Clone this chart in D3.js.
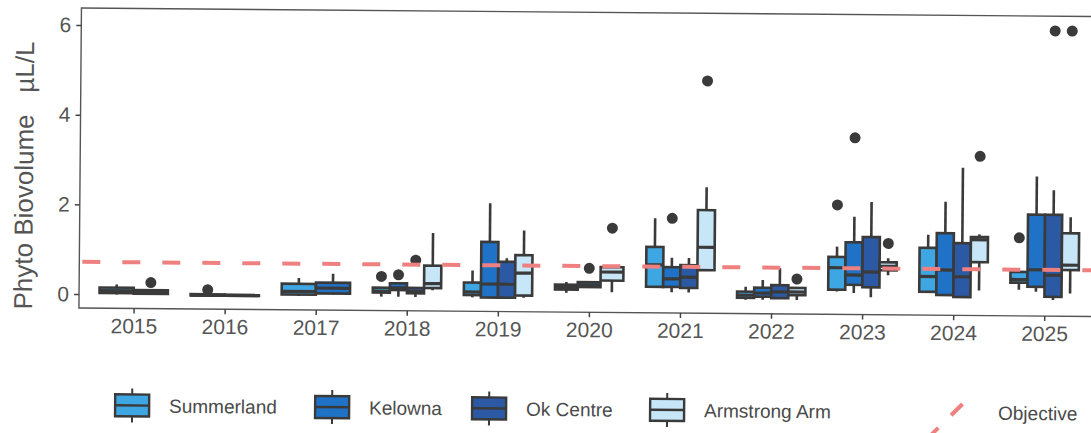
<!DOCTYPE html>
<meta charset="utf-8">
<style>
  body { margin: 0; background: #fff; }
  text { font-family: "Liberation Sans", Arial, sans-serif; }
</style>
<body>
<svg width="1091" height="433"></svg>
<script src="https://cdn.jsdelivr.net/npm/d3@7"></script>
<script>

// years on the x axis
var years = ["2015", "2016", "2017", "2018", "2019", "2020", "2021", "2022", "2023", "2024", "2025"];
var sites = ["Summerland", "Kelowna", "Ok Centre", "Armstrong Arm"];
var yTicks = [0, 2, 4, 6];
var objective = 0.72;

// box stats per year: [lower whisker, q1, median, q3, upper whisker], null = no samples
var summerland = [
  [0.0, 0.03, 0.08, 0.15, 0.22], [-0.02, -0.01, 0.0, 0.02, 0.03], [0.0, 0.03, 0.1, 0.27, 0.4],
  [0.0, 0.09, 0.12, 0.2, 0.2], [0.0, 0.05, 0.12, 0.33, 0.6], [0.12, 0.19, 0.24, 0.3, 0.36],
  [0.25, 0.27, 0.76, 1.16, 1.8], [0.0, 0.04, 0.1, 0.18, 0.29], [0.2, 0.24, 0.73, 0.97, 1.2],
  [0.21, 0.21, 0.55, 1.19, 1.48], [0.27, 0.43, 0.5, 0.67, 0.67]
];
var kelowna = [
  [0.0, 0.02, 0.05, 0.1, 0.12], [-0.02, -0.01, 0.0, 0.01, 0.02], [0.04, 0.06, 0.18, 0.3, 0.5],
  [0.0, 0.15, 0.2, 0.3, 0.3], [0.0, 0.0, 0.3, 1.24, 2.1], [0.25, 0.25, 0.3, 0.36, 0.36],
  [0.15, 0.27, 0.45, 0.71, 0.92], [0.0, 0.07, 0.15, 0.27, 0.44], [0.17, 0.35, 0.57, 1.3, 1.87],
  [0.14, 0.14, 0.7, 1.52, 2.22], [0.23, 0.34, 0.72, 1.95, 2.8]
];
var okCentre = [
  null, null, null,
  [0.0, 0.08, 0.12, 0.2, 0.2], [0.0, 0.0, 0.3, 0.8, 0.88], null,
  [0.15, 0.25, 0.49, 0.76, 0.92], [0.04, 0.04, 0.18, 0.33, 0.71], [0.08, 0.3, 0.64, 1.42, 2.2],
  [0.1, 0.1, 0.55, 1.3, 2.98], [0.05, 0.12, 0.6, 1.95, 2.5]
];
var armstrong = [
  null, null, null,
  [0.15, 0.2, 0.3, 0.7, 1.43], [0.0, 0.05, 0.55, 0.95, 1.5], [0.14, 0.4, 0.59, 0.7, 0.74],
  [0.65, 0.65, 1.16, 1.99, 2.5], [0.0, 0.11, 0.18, 0.27, 0.27], [0.57, 0.68, 0.77, 0.86, 0.95],
  [0.25, 0.88, 1.38, 1.44, 1.5], [0.2, 0.72, 0.83, 1.54, 1.9]
];

// outliers: [year, value]
var summerlandOut = [["2016", 0.12], ["2018", 0.45], ["2023", 2.13], ["2025", 1.43]];
var kelownaOut = [["2015", 0.27], ["2018", 0.49], ["2020", 0.67], ["2021", 1.8], ["2023", 3.63]];
var okCentreOut = [["2018", 0.82], ["2025", 6.05]];
var armstrongOut = [["2020", 1.57], ["2021", 4.87], ["2022", 0.47], ["2023", 1.28], ["2024", 3.24], ["2025", 6.05]];

var stats = [summerland, kelowna, okCentre, armstrong];
var outs = [summerlandOut, kelownaOut, okCentreOut, armstrongOut];
var colors = ["#3ea6e2", "#1f72c6", "#2b59a4", "#c7e6f8"];
var ink = "#3a3a3a";

var svg = d3.select("svg");
// the source is a slightly tilted scan
var chart = svg.append("g").attr("transform", "rotate(0.48, 80, 300)");

var panel = {left: 79, right: 1099, top: 8, bottom: 308};

var x = d3.scalePoint()
    .domain(years)
    .range([panel.left, panel.right])
    .padding(0.6);
var y = d3.scaleLinear()
    .domain([-0.31, 6.38])
    .range([panel.bottom, panel.top]);

var step = x.step();
var dodgeW = 0.75 * step;

// panel border
chart.append("rect")
    .attr("x", panel.left).attr("y", panel.top)
    .attr("width", panel.right - panel.left)
    .attr("height", panel.bottom - panel.top)
    .attr("fill", "none")
    .attr("stroke", "#555")
    .attr("stroke-width", 1.4);

// axes
var yAxis = chart.append("g")
    .attr("transform", "translate(" + panel.left + ",0)")
    .call(d3.axisLeft(y).tickValues(yTicks).tickFormat(d3.format("d")).tickSize(5).tickPadding(5));
var xAxis = chart.append("g")
    .attr("transform", "translate(0," + panel.bottom + ")")
    .call(d3.axisBottom(x).tickSize(5).tickPadding(5));
[yAxis, xAxis].forEach(function (a) {
    a.select(".domain").remove();
    a.selectAll("line").attr("stroke", "#444").attr("stroke-width", 1.5);
    a.selectAll("text")
        .attr("fill", "#555")
        .style("font-size", "21px")
        .style("font-family", "Liberation Sans, Arial, sans-serif");
});

// y title
chart.append("text")
    .attr("transform", "translate(32," + ((panel.top + panel.bottom) / 2 + 18) + ") rotate(-90)")
    .attr("text-anchor", "middle")
    .attr("fill", "#555")
    .style("font-size", "26px")
    .text("Phyto Biovolume\u00a0\u00a0\u00a0µL/L");

// build the box list, dodged by the sites present in each year
var boxes = [];
years.forEach(function (yr, i) {
    var present = [];
    stats.forEach(function (arr, s) { if (arr[i]) present.push(s); });
    var w = dodgeW / present.length;
    present.forEach(function (s, k) {
        var d = stats[s][i];
        boxes.push({
            year: yr, site: s,
            x0: x(yr) - dodgeW / 2 + k * w, w: w,
            lo: d[0], q1: d[1], med: d[2], q3: d[3], hi: d[4]
        });
    });
});

var bg = chart.append("g");
var bx = bg.selectAll(".box").data(boxes).enter().append("g").attr("class", "box");

bx.append("line")
    .attr("x1", function (d) { return d.x0 + d.w / 2; })
    .attr("x2", function (d) { return d.x0 + d.w / 2; })
    .attr("y1", function (d) { return y(d.hi); })
    .attr("y2", function (d) { return y(d.lo); })
    .attr("stroke", ink).attr("stroke-width", 2.6);

bx.append("rect")
    .attr("x", function (d) { return d.x0; })
    .attr("width", function (d) { return d.w; })
    .attr("y", function (d) { return y(d.q3); })
    .attr("height", function (d) { return Math.max(0.5, y(d.q1) - y(d.q3)); })
    .attr("fill", function (d) { return colors[d.site]; })
    .attr("stroke", ink).attr("stroke-width", 2.6);

bx.append("line")
    .attr("x1", function (d) { return d.x0; })
    .attr("x2", function (d) { return d.x0 + d.w; })
    .attr("y1", function (d) { return y(d.med); })
    .attr("y2", function (d) { return y(d.med); })
    .attr("stroke", ink).attr("stroke-width", 3.2);

// outliers
outs.forEach(function (list, s) {
    list.forEach(function (o) {
        var b = boxes.filter(function (d) { return d.year === o[0] && d.site === s; })[0];
        chart.append("circle")
            .attr("cx", b.x0 + b.w / 2)
            .attr("cy", y(o[1]))
            .attr("r", 5.5)
            .attr("fill", ink);
    });
});

// objective line, drawn over the boxes
chart.append("line")
    .attr("x1", panel.left + 3).attr("x2", panel.right)
    .attr("y1", y(objective)).attr("y2", y(objective))
    .attr("stroke", "#ef8080")
    .attr("stroke-width", 4)
    .attr("stroke-dasharray", "18,22");

// legend
var legY = 405;
var legLabelX = [170, 370, 527, 705];
var leg = chart.append("g");
sites.forEach(function (name, s) {
    var kx = legLabelX[s] - 20 - 34;
    var g = leg.append("g");
    g.append("line")
        .attr("x1", kx + 17).attr("x2", kx + 17)
        .attr("y1", legY - 17).attr("y2", legY + 17)
        .attr("stroke", ink).attr("stroke-width", 2);
    g.append("rect")
        .attr("x", kx).attr("y", legY - 11)
        .attr("width", 34).attr("height", 22)
        .attr("fill", colors[s])
        .attr("stroke", ink).attr("stroke-width", 2.4);
    g.append("line")
        .attr("x1", kx).attr("x2", kx + 34)
        .attr("y1", legY).attr("y2", legY)
        .attr("stroke", ink).attr("stroke-width", 2.4);
    g.append("text")
        .attr("x", legLabelX[s]).attr("y", legY + 7)
        .attr("fill", "#4a4a4a")
        .style("font-size", "19px")
        .text(name);
});
leg.append("line")
    .attr("x1", 928).attr("y1", 432)
    .attr("x2", 970).attr("y2", 390)
    .attr("stroke", "#ef8080")
    .attr("stroke-width", 4)
    .attr("stroke-dasharray", "16,18");
leg.append("text")
    .attr("x", 999).attr("y", legY + 7)
    .attr("fill", "#4a4a4a")
    .style("font-size", "19px")
    .text("Objective");

</script>
</body>
